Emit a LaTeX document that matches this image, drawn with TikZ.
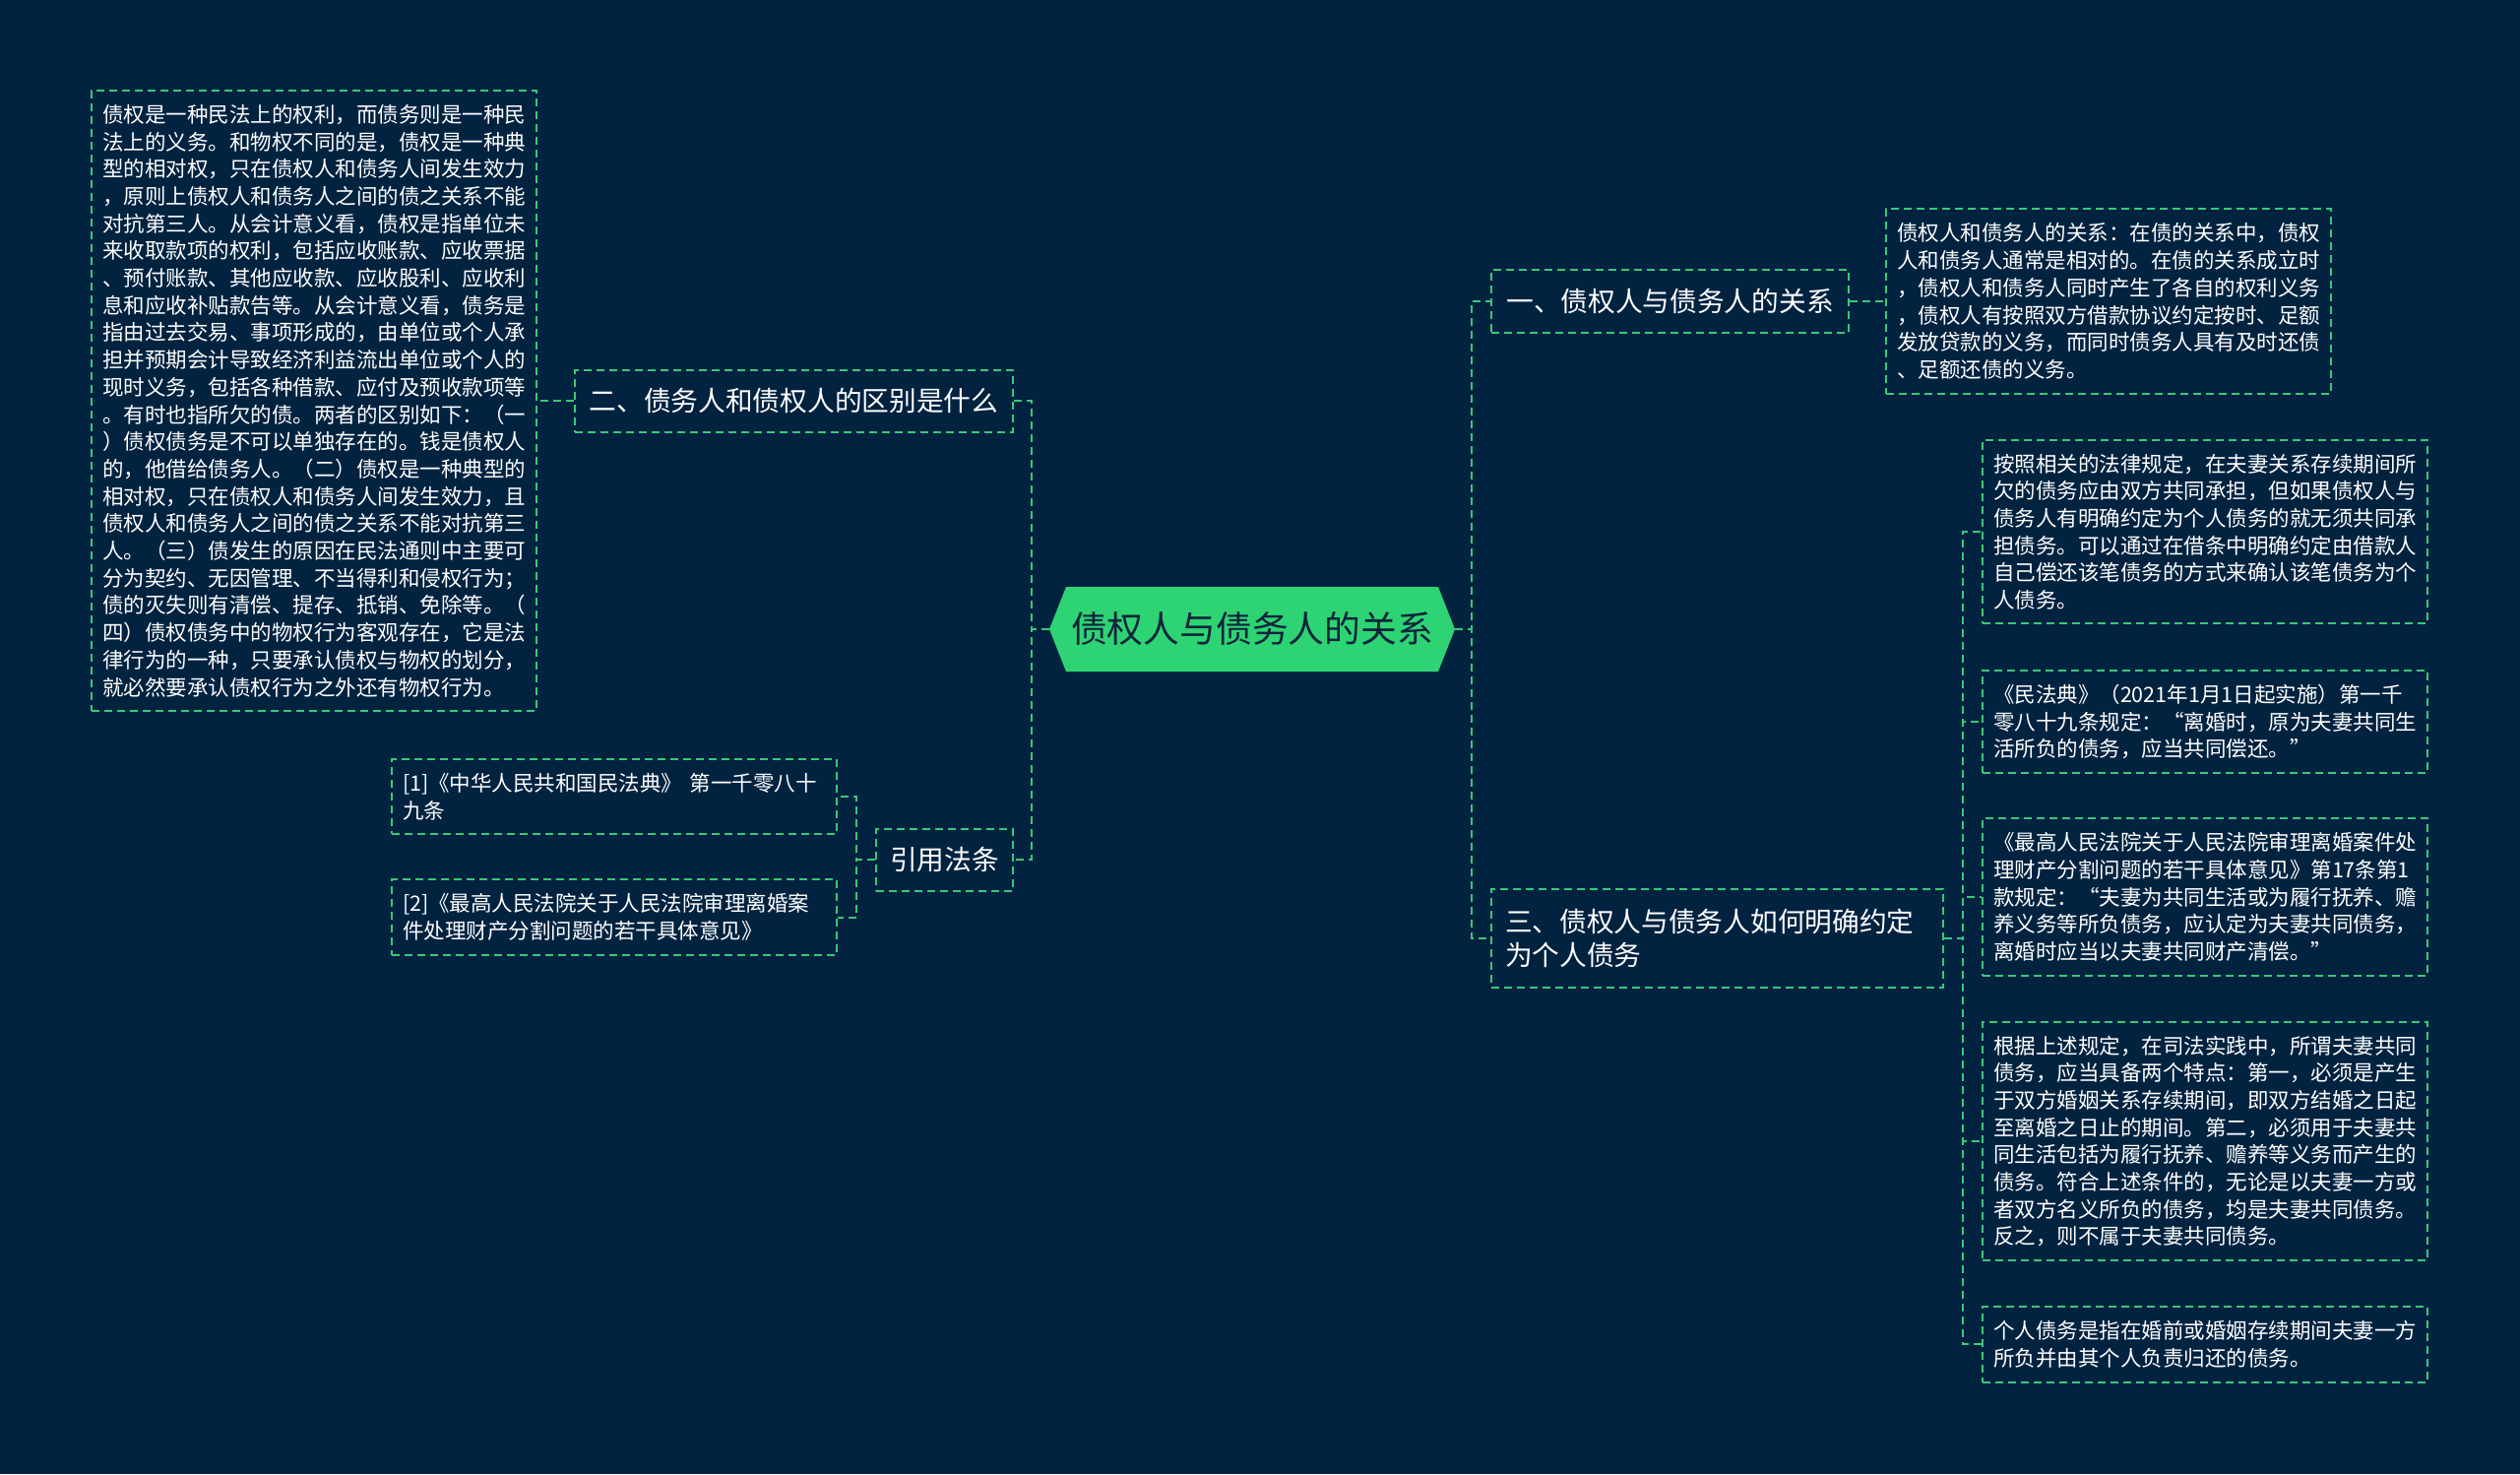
\documentclass[tikz,border=0pt]{standalone}
\usepackage{fontspec}
\setmainfont{Noto Sans CJK SC}
\definecolor{bg}{RGB}{2,35,64}
\definecolor{lin}{RGB}{58,200,120}
\definecolor{rootfill}{RGB}{46,212,115}
\definecolor{rootink}{RGB}{12,36,60}
\begin{document}
\begin{tikzpicture}[x=1pt,y=-1pt,
  conn/.style={draw=lin, line width=2pt, dash pattern=on 8pt off 5pt},
  leafbox/.style={draw=lin, line width=2pt, dash pattern=on 8pt off 5pt, text=white,
    font=\fontsize{21.5}{27.7}\selectfont, align=left, text width=430pt,
    inner xsep=11pt, inner ysep=6pt, minimum width=452pt},
  branchbox/.style={draw=lin, line width=2pt, dash pattern=on 8pt off 5pt, text=white,
    font=\fontsize{27.7}{34}\selectfont, inner xsep=14pt, inner ysep=6pt},
]
\fill[bg] (0,0) rectangle (2560,1497);
\useasboundingbox (0,0) rectangle (2560,1497);

% root
\fill[rootfill] (1066,639) -- (1083,596) -- (1461,596) -- (1478,639) -- (1461,682) -- (1083,682) -- cycle;
\node[font=\fontsize{36.8}{40}\selectfont, text=rootink, minimum width=412pt, minimum height=86pt, inner sep=0pt] (root) at (1272,639) {债权人与债务人的关系};

% left side
\node[branchbox, minimum width=445pt, minimum height=63pt] (b2) at (806.5,407) {二、债务人和债权人的区别是什么};
\node[leafbox, minimum height=630pt] (txtL) at (319,407) {债权是一种民法上的权利，而债务则是一种民\\法上的义务。和物权不同的是，债权是一种典\\型的相对权，只在债权人和债务人间发生效力\\，原则上债权人和债务人之间的债之关系不能\\对抗第三人。从会计意义看，债权是指单位未\\来收取款项的权利，包括应收账款、应收票据\\、预付账款、其他应收款、应收股利、应收利\\息和应收补贴款告等。从会计意义看，债务是\\指由过去交易、事项形成的，由单位或个人承\\担并预期会计导致经济利益流出单位或个人的\\现时义务，包括各种借款、应付及预收款项等\\。有时也指所欠的债。两者的区别如下：（一\\）债权债务是不可以单独存在的。钱是债权人\\的，他借给债务人。（二）债权是一种典型的\\相对权，只在债权人和债务人间发生效力，且\\债权人和债务人之间的债之关系不能对抗第三\\人。（三）债发生的原因在民法通则中主要可\\分为契约、无因管理、不当得利和侵权行为；\\债的灭失则有清偿、提存、抵销、免除等。（\\四）债权债务中的物权行为客观存在，它是法\\律行为的一种，只要承认债权与物权的划分，\\就必然要承认债权行为之外还有物权行为。};

\node[branchbox, minimum width=139pt, minimum height=63pt] (cite) at (959.5,873) {引用法条};
\node[leafbox, minimum height=76pt] (r1) at (624,809) {[1]《中华人民共和国民法典》 第一千零八十\\九条};
\node[leafbox, minimum height=77pt] (r2) at (624,931.5) {[2]《最高人民法院关于人民法院审理离婚案\\件处理财产分割问题的若干具体意见》};

% right side
\node[branchbox, minimum width=363pt, minimum height=64pt] (b1) at (1696.5,306) {一、债权人与债务人的关系};
\node[leafbox, minimum height=188pt] (t1) at (2142,306) {债权人和债务人的关系：在债的关系中，债权\\人和债务人通常是相对的。在债的关系成立时\\，债权人和债务人同时产生了各自的权利义务\\，债权人有按照双方借款协议约定按时、足额\\发放贷款的义务，而同时债务人具有及时还债\\、足额还债的义务。};

\node[branchbox, align=left, text width=431pt, minimum width=459pt, minimum height=100pt] (b3) at (1744.5,953) {三、债权人与债务人如何明确约定\\为个人债务};

\node[leafbox, minimum height=186pt] (ca) at (2240,540) {按照相关的法律规定，在夫妻关系存续期间所\\欠的债务应由双方共同承担，但如果债权人与\\债务人有明确约定为个人债务的就无须共同承\\担债务。可以通过在借条中明确约定由借款人\\自己偿还该笔债务的方式来确认该笔债务为个\\人债务。};
\node[leafbox, minimum height=104pt] (cb) at (2240,733) {《民法典》（2021年1月1日起实施）第一千\\零八十九条规定：“离婚时，原为夫妻共同生\\活所负的债务，应当共同偿还。”};
\node[leafbox, minimum height=160pt] (cc) at (2240,911) {《最高人民法院关于人民法院审理离婚案件处\\理财产分割问题的若干具体意见》第17条第1\\款规定：“夫妻为共同生活或为履行抚养、赡\\养义务等所负债务，应认定为夫妻共同债务，\\离婚时应当以夫妻共同财产清偿。”};
\node[leafbox, minimum height=242pt] (cd) at (2240,1159) {根据上述规定，在司法实践中，所谓夫妻共同\\债务，应当具备两个特点：第一，必须是产生\\于双方婚姻关系存续期间，即双方结婚之日起\\至离婚之日止的期间。第二，必须用于夫妻共\\同生活包括为履行抚养、赡养等义务而产生的\\债务。符合上述条件的，无论是以夫妻一方或\\者双方名义所负的债务，均是夫妻共同债务。\\反之，则不属于夫妻共同债务。};
\node[leafbox, minimum height=77pt] (ce) at (2240,1365) {个人债务是指在婚前或婚姻存续期间夫妻一方\\所负并由其个人负责归还的债务。};

% connectors
\coordinate (rt) at (1495,639);
\coordinate (lt) at (1048,639);
\coordinate (ct) at (870,873);
\coordinate (b3t) at (1994,953);

\draw[conn] (root.east) -- (rt) |- (b1.west);
\draw[conn] (root.east) -- (rt) |- (b3.west);
\draw[conn] (root.west) -- (lt) |- (b2.east);
\draw[conn] (root.west) -- (lt) |- (cite.east);
\draw[conn] (b2.west) -- (txtL.east);
\draw[conn] (b1.east) -- (t1.west);
\draw[conn] (cite.west) -- (ct) |- (r1.east);
\draw[conn] (cite.west) -- (ct) |- (r2.east);
\draw[conn] (b3.east) -- (b3t) |- (ca.west);
\draw[conn] (b3.east) -- (b3t) |- (cb.west);
\draw[conn] (b3.east) -- (b3t) |- (cc.west);
\draw[conn] (b3.east) -- (b3t) |- (cd.west);
\draw[conn] (b3.east) -- (b3t) |- (ce.west);
\end{tikzpicture}
\end{document}
